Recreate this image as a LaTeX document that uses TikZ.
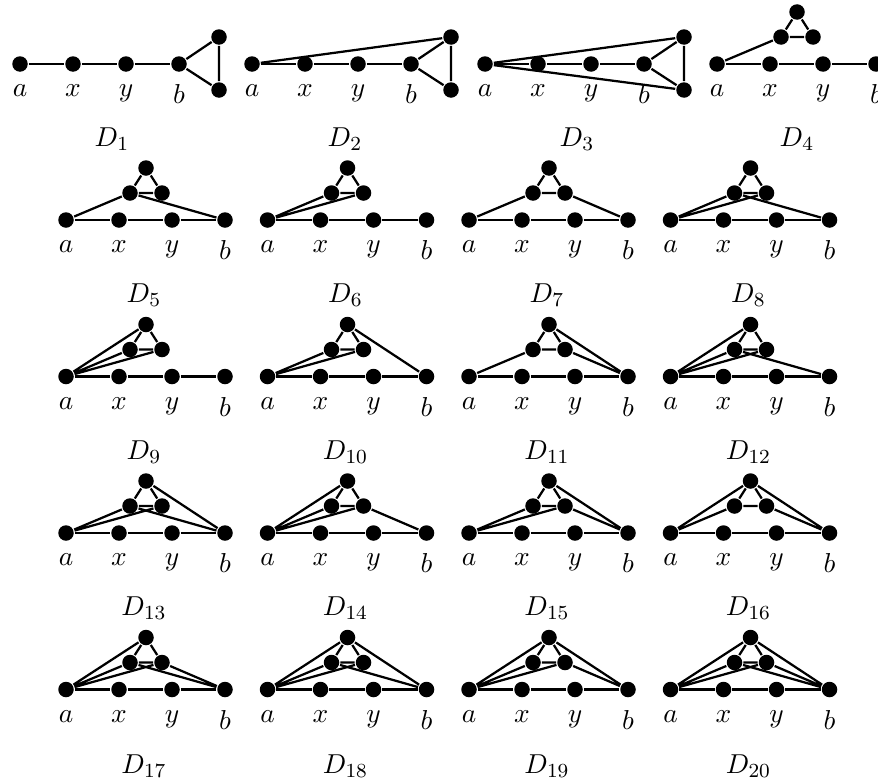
\documentclass[tikz,border=0pt]{standalone}
\usetikzlibrary{positioning, calc}

\tikzset{
  vtx/.style={circle, fill, inner sep=0pt, minimum size=6.2pt},
  gname/.style={anchor=base},
  every label/.style={label distance=1pt}
}

% a -- x -- y -- b with labels (#1 prefix, #2 x of a, #3 row)
\newcommand{\basepath}[3]{%
  \node[vtx, label=below:$a$] (#1a) at (#2,#3) {};
  \node[vtx, label=below:$x$] (#1x) at ({#2+53},#3) {};
  \node[vtx, label=below:$y$] (#1y) at ({#2+106},#3) {};
  \node[vtx, label=below:$b$] (#1b) at ({#2+159},#3) {};
  \draw (#1a) -- (#1x) (#1x) -- (#1y) (#1y) -- (#1b);
}
% triangle above the path
\newcommand{\toptri}[3]{%
  \node[vtx] (#1l) at ({#2+64},{#3-27}) {};
  \node[vtx] (#1r) at ({#2+96},{#3-27}) {};
  \node[vtx] (#1t) at ({#2+80},{#3-52}) {};
  \draw (#1l) -- (#1r) (#1r) -- (#1t) (#1t) -- (#1l);
}
% triangle hanging on b
\newcommand{\sidetri}[3]{%
  \node[vtx] (#1t) at ({#2+199},{#3-27}) {};
  \node[vtx] (#1u) at ({#2+199},{#3+26}) {};
  \draw (#1b) -- (#1t) (#1t) -- (#1u) (#1u) -- (#1b);
}

\begin{document}
\begin{tikzpicture}[x=0.4pt, y=-0.4pt, line width=0.9pt,
                    font=\fontsize{11}{13}\selectfont]
  \useasboundingbox (0,0) rectangle (878,780);

  % row 1
  \basepath{g1}{20}{64} \sidetri{g1}{20}{64}
  \node[gname] (n1) at (112,146) {$D_{1}$};

  \basepath{g2}{252}{64} \sidetri{g2}{252}{64}
  \draw (g2a) -- (g2t);
  \node[gname] (n2) at (345,146) {$D_{2}$};

  \basepath{g3}{485}{64} \sidetri{g3}{485}{64}
  \draw (g3a) -- (g3t) (g3a) -- (g3u);
  \node[gname] (n3) at (577,146) {$D_{3}$};

  \basepath{g4}{717}{64} \toptri{g4}{717}{64}
  \draw (g4a) -- (g4l);
  \node[gname] (n4) at (797,146) {$D_{4}$};

  % row 2
  \basepath{g5}{66}{220} \toptri{g5}{66}{220}
  \draw (g5a) -- (g5l) (g5l) -- (g5b);
  \node[gname] (n5) at (144,302) {$D_{5}$};

  \basepath{g6}{267.5}{220} \toptri{g6}{267.5}{220}
  \draw (g6a) -- (g6l) (g6a) -- (g6r);
  \node[gname] (n6) at (345.5,302) {$D_{6}$};

  \basepath{g7}{469}{220} \toptri{g7}{469}{220}
  \draw (g7a) -- (g7l) (g7r) -- (g7b);
  \node[gname] (n7) at (547,302) {$D_{7}$};

  \basepath{g8}{670.5}{220} \toptri{g8}{670.5}{220}
  \draw (g8a) -- (g8l) (g8a) -- (g8r) (g8l) -- (g8b);
  \node[gname] (n8) at (748.5,302) {$D_{8}$};

  % row 3
  \basepath{g9}{66}{376.5} \toptri{g9}{66}{376.5}
  \draw (g9a) -- (g9t) (g9a) -- (g9l) (g9a) -- (g9r);
  \node[gname] (n9) at (144,459) {$D_{9}$};

  \basepath{g10}{267.5}{376.5} \toptri{g10}{267.5}{376.5}
  \draw (g10a) -- (g10l) (g10a) -- (g10r) (g10t) -- (g10b);
  \node[gname] (n10) at (345.5,459) {$D_{10}$};

  \basepath{g11}{469}{376.5} \toptri{g11}{469}{376.5}
  \draw (g11a) -- (g11l) (g11t) -- (g11b) (g11r) -- (g11b);
  \node[gname] (n11) at (547,459) {$D_{11}$};

  \basepath{g12}{670.5}{376.5} \toptri{g12}{670.5}{376.5}
  \draw (g12a) -- (g12t) (g12a) -- (g12l) (g12a) -- (g12r) (g12l) -- (g12b);
  \node[gname] (n12) at (748.5,459) {$D_{12}$};

  % row 4
  \basepath{g13}{66}{533} \toptri{g13}{66}{533}
  \draw (g13a) -- (g13l) (g13a) -- (g13r) (g13l) -- (g13b) (g13t) -- (g13b);
  \node[gname] (n13) at (144,615) {$D_{13}$};

  \basepath{g14}{267.5}{533} \toptri{g14}{267.5}{533}
  \draw (g14a) -- (g14t) (g14a) -- (g14l) (g14a) -- (g14r) (g14r) -- (g14b);
  \node[gname] (n14) at (345.5,615) {$D_{14}$};

  \basepath{g15}{469}{533} \toptri{g15}{469}{533}
  \draw (g15a) -- (g15l) (g15a) -- (g15r) (g15t) -- (g15b) (g15r) -- (g15b);
  \node[gname] (n15) at (547,615) {$D_{15}$};

  \basepath{g16}{670.5}{533} \toptri{g16}{670.5}{533}
  \draw (g16a) -- (g16t) (g16a) -- (g16l) (g16t) -- (g16b) (g16r) -- (g16b);
  \node[gname] (n16) at (748.5,615) {$D_{16}$};

  % row 5
  \basepath{g17}{66}{689.5} \toptri{g17}{66}{689.5}
  \draw (g17a) -- (g17t) (g17a) -- (g17l) (g17a) -- (g17r)
        (g17l) -- (g17b) (g17r) -- (g17b);
  \node[gname] (n17) at (144,773) {$D_{17}$};

  \basepath{g18}{267.5}{689.5} \toptri{g18}{267.5}{689.5}
  \draw (g18a) -- (g18t) (g18a) -- (g18l) (g18a) -- (g18r)
        (g18t) -- (g18b) (g18l) -- (g18b);
  \node[gname] (n18) at (345.5,773) {$D_{18}$};

  \basepath{g19}{469}{689.5} \toptri{g19}{469}{689.5}
  \draw (g19a) -- (g19t) (g19a) -- (g19l) (g19a) -- (g19r)
        (g19t) -- (g19b) (g19r) -- (g19b);
  \node[gname] (n19) at (547,773) {$D_{19}$};

  \basepath{g20}{670.5}{689.5} \toptri{g20}{670.5}{689.5}
  \draw (g20a) -- (g20t) (g20a) -- (g20l) (g20a) -- (g20r)
        (g20t) -- (g20b) (g20l) -- (g20b) (g20r) -- (g20b);
  \node[gname] (n20) at (748.5,773) {$D_{20}$};
\end{tikzpicture}
\end{document}
